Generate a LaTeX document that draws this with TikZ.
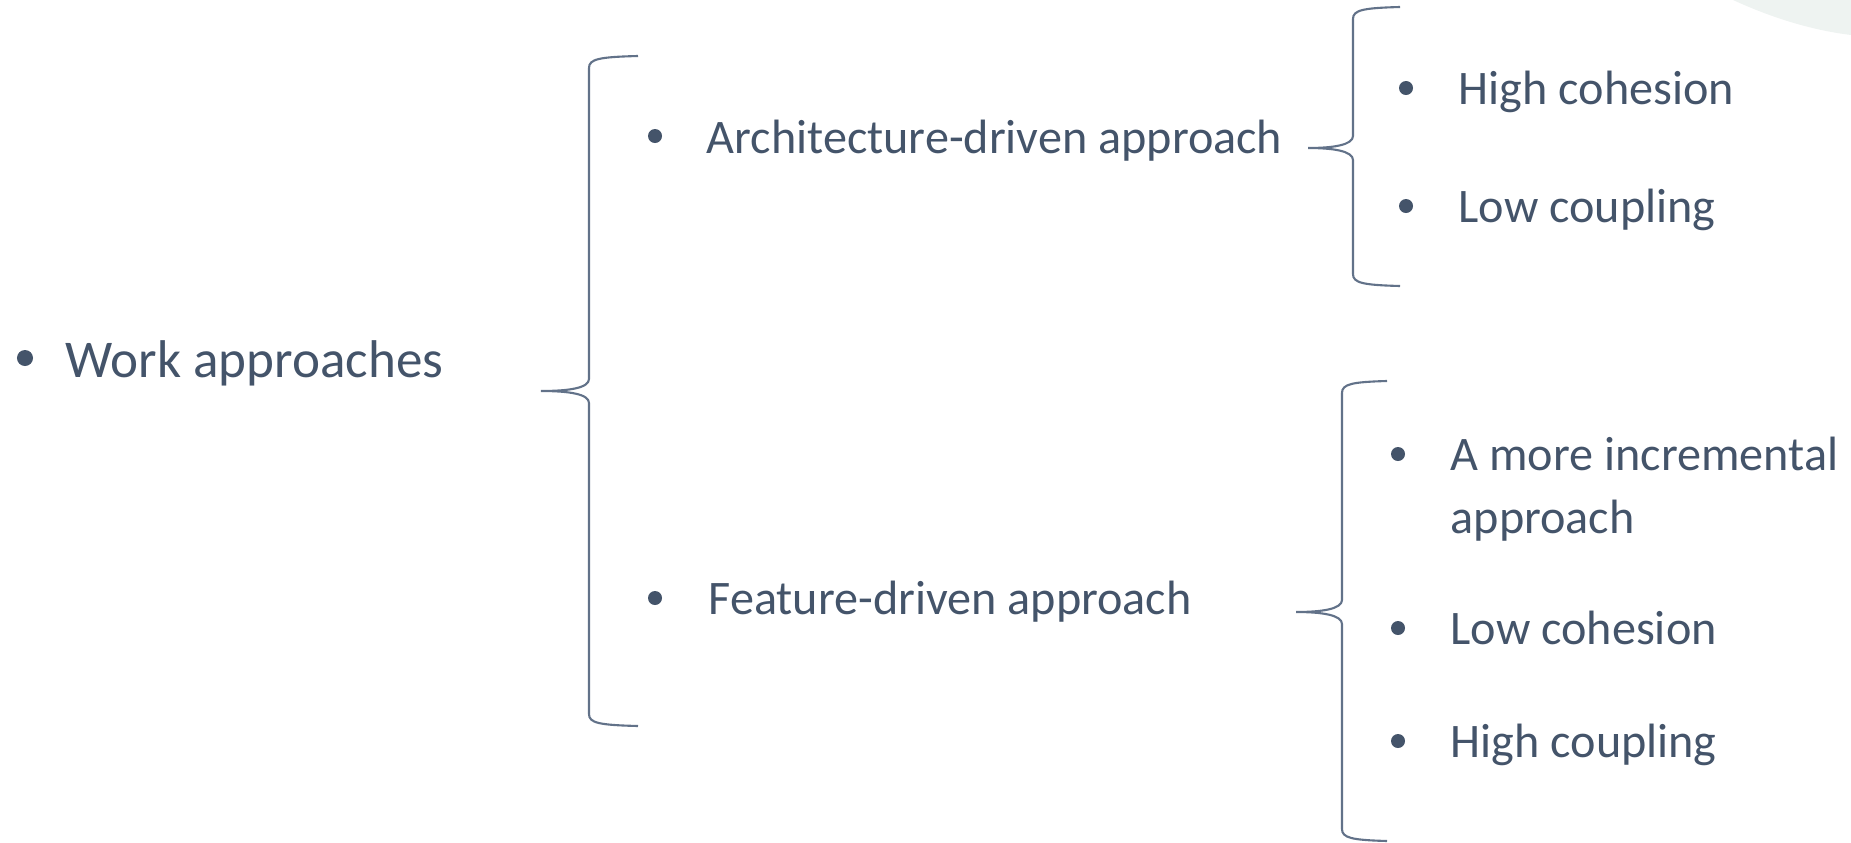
\documentclass[tikz,border=0pt]{standalone}
\usepackage{fontspec}
\setmainfont{Carlito}
\usetikzlibrary{positioning}

\definecolor{slate}{HTML}{44546A}
\definecolor{bracecol}{HTML}{627289}
\definecolor{arcfill}{HTML}{EEF3F1}

% curly brace: spine x, arm-end x, tip x, top, middle, bottom
\newcommand{\curly}[6]{%
  \draw[brace] (#2,#4) .. controls ({#1+10},{#4+1}) and (#1,{#4+3}) .. (#1,{#4+12})
    -- (#1,{#5-12}) .. controls (#1,{#5-3}) and ({#1-20},#5) .. (#3,#5)
    .. controls ({#1-20},#5) and (#1,{#5+3}) .. (#1,{#5+12})
    -- (#1,{#6-12}) .. controls (#1,{#6-3}) and ({#1+10},{#6-1}) .. (#2,#6);}

\begin{document}
\begin{tikzpicture}[x=0.01cm, y=-0.01cm,
    item/.style={anchor=base west, inner sep=0pt, text=slate, align=left},
    big/.style={font=\fontsize{15.1}{18}\selectfont},
    small/.style={font=\fontsize{13.7}{17.9}\selectfont},
    dot/.style={circle, fill=slate, inner sep=0pt, minimum size=0.14cm},
    brace/.style={draw=bracecol, line width=0.6pt}]

	% Canvas
	\useasboundingbox (0,0) rectangle (1851,842);

	% Corner decoration
	\fill[arcfill] (1733,0) .. controls (1770,17) and (1810,30) .. (1851,35) -- (1851,0) -- cycle;

	% Top level
	\node[item, big] (work) at (65,377) {Work approaches};
	\node[dot, minimum size=0.16cm] (dwork) at (25,358) {};

	% Second level
	\node[item, small] (arch) at (706,153) {Architecture-driven approach};
	\node[dot] (darch) at (655,136) {};
	\node[item, small] (feat) at (708,614) {Feature-driven approach};
	\node[dot] (dfeat) at (655,598) {};

	% Third level: name/x/last baseline/bullet y/text
	\foreach \nm/\xx/\yy/\by/\txt in {hicoh/1458/104/88/High cohesion, locoup/1458/222/206/Low coupling,
	    incr/1450/533/454/{A more incremental\\approach}, locoh/1450/644/628/Low cohesion,
	    hicoup/1450/757/741/High coupling} {
		\node[item, small] (\nm) at (\xx,\yy) {\txt};
		\node[dot] (d\nm) at (\xx-52,\by) {};
	}

	% Braces
	\curly{589}{638}{541}{56}{391}{726}
	\curly{1353}{1400}{1308}{7}{148}{286}
	\curly{1342}{1387}{1296}{381}{612}{841}
\end{tikzpicture}
\end{document}
